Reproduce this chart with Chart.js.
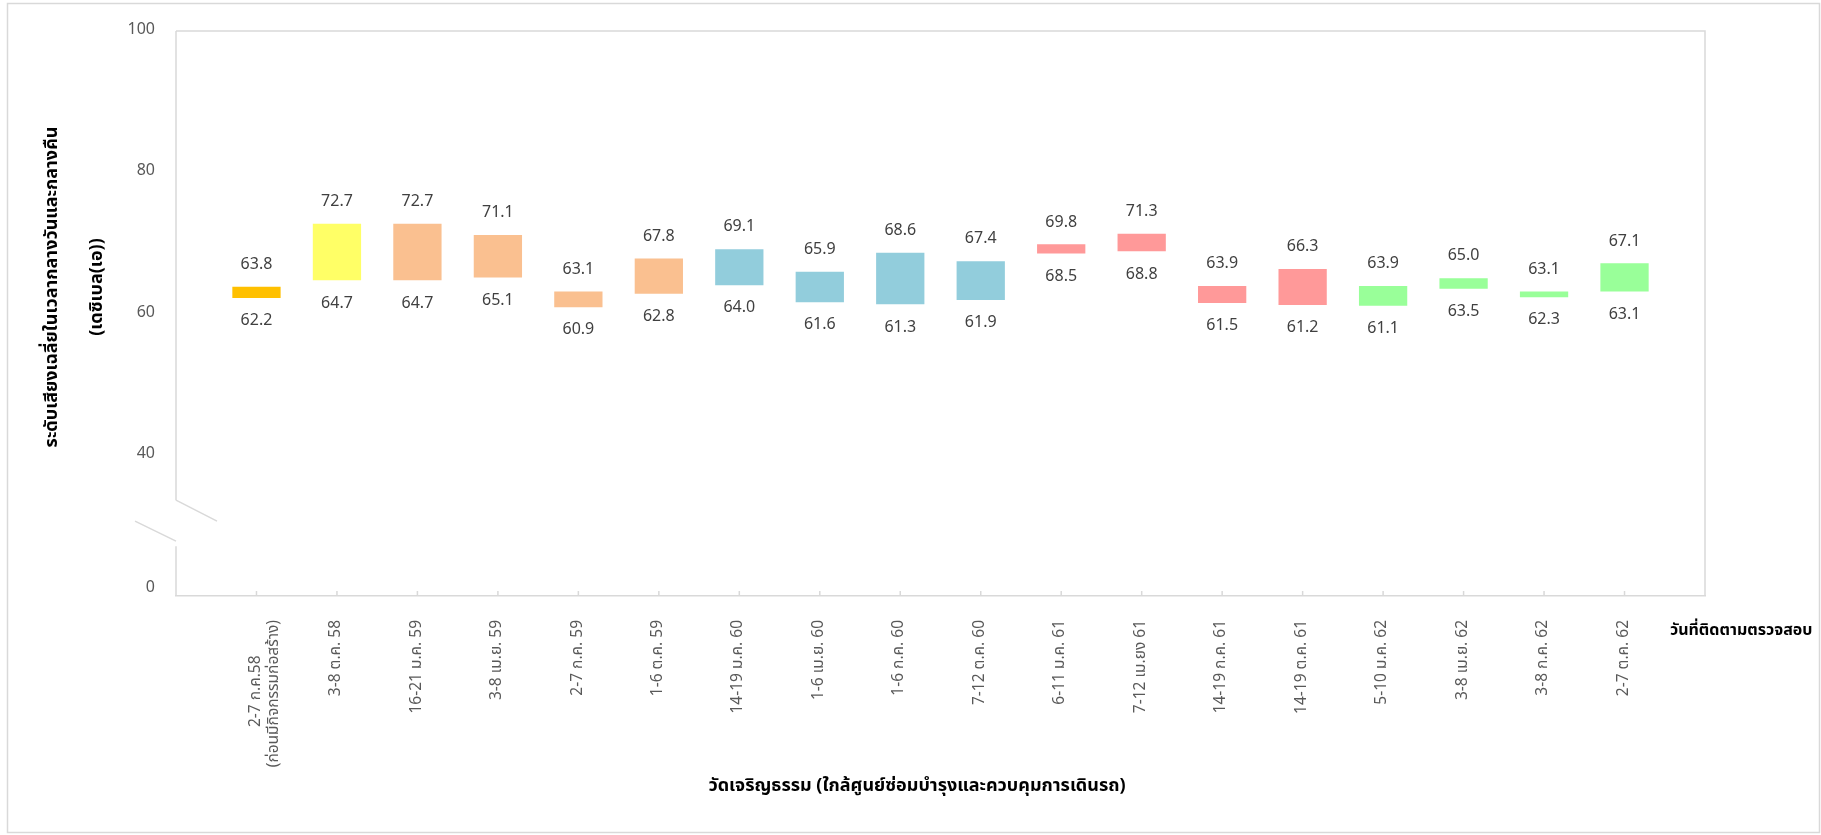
<!DOCTYPE html>
<html>
<head>
<meta charset="utf-8">
<script src="https://cdn.jsdelivr.net/npm/chart.js@4.4.1/dist/chart.umd.min.js"></script>
<style>
  html, body { margin: 0; padding: 0; background: #fff; }
  #wrap { width: 1821px; height: 835px; }
</style>
</head>
<body>
<div id="wrap"><canvas id="noiseChart" width="1821" height="835"></canvas></div>
<script>
// ช่วงวันที่ตรวจวัด
const categories = [
    ['2-7 ก.ค.58' + '\u2007'.repeat(4), '(ก่อนมีกิจกรรมก่อสร้าง)'],
    '3-8 ต.ค. 58', '16-21 ม.ค. 59', '3-8 เม.ย. 59', '2-7 ก.ค. 59', '1-6 ต.ค. 59',
    '14-19 ม.ค. 60', '1-6 เม.ย. 60', '1-6 ก.ค. 60', '7-12 ต.ค. 60', '6-11 ม.ค. 61',
    '7-12 เม.ยง 61', '14-19 ก.ค. 61', '14-19 ต.ค. 61', '5-10 ม.ค. 62', '3-8 เม.ย. 62',
    '3-8 ก.ค. 62', '2-7 ต.ค. 62'
];
const highValues = [63.8, 72.7, 72.7, 71.1, 63.1, 67.8, 69.1, 65.9, 68.6, 67.4, 69.8, 71.3, 63.9, 66.3, 63.9, 65.0, 63.1, 67.1];
const lowValues  = [62.2, 64.7, 64.7, 65.1, 60.9, 62.8, 64.0, 61.6, 61.3, 61.9, 68.5, 68.8, 61.5, 61.2, 61.1, 63.5, 62.3, 63.1];
const barColors = [
    '#FFC000', '#FFFF66',
    '#FAC090', '#FAC090', '#FAC090', '#FAC090',
    '#92CDDC', '#92CDDC', '#92CDDC', '#92CDDC',
    '#FF9999', '#FF9999', '#FF9999', '#FF9999',
    '#99FF99', '#99FF99', '#99FF99', '#99FF99'
];
// ค่าบนแกน y (แกนถูกตัดช่วงระหว่าง 0 ถึง 40)
const yTickValues = [21.0, 40, 60, 80, 100];
const yTickLabels = ['0', '40', '60', '80', '100'];

const yTitle = ['ระดับเสียงเฉลี่ยในเวลากลางวันและกลางคืน', '(เดซิเบล(เอ))'];
const xTitle = 'วัดเจริญธรรม (ใกล้ศูนย์ซ่อมบำรุงและควบคุมการเดินรถ)';
const xEndTitle = 'วันที่ติดตามตรวจสอบ';

const FONT = "'Noto Sans Thai', 'Noto Sans', Tahoma, sans-serif";
const GRAY = '#D9D9D9';

// ช่องว่างหัว-ท้ายแกน x
const labels = [''].concat(categories, ['']);
const ranges = [null].concat(highValues.map((h, i) => [lowValues[i], h]), [null]);
const colors = ['#fff'].concat(barColors, ['#fff']);

const decorPlugin = {
    id: 'decor',
    afterDraw(chart) {
        const ctx = chart.ctx;
        const area = chart.chartArea;
        const y = chart.scales.y;
        const x = chart.scales.x;
        ctx.save();

        // กรอบนอก
        ctx.strokeStyle = GRAY;
        ctx.lineWidth = 1.5;
        ctx.strokeRect(7.5, 3.5, 1812, 829);

        // ขอบบนและขวาของพื้นที่กราฟ
        ctx.beginPath();
        ctx.moveTo(area.left, area.top);
        ctx.lineTo(area.right, area.top);
        ctx.lineTo(area.right, area.bottom);
        ctx.stroke();

        // แกน y พร้อมเครื่องหมายตัดแกน
        const bc = y.getPixelForValue(30.6);
        ctx.beginPath();
        ctx.moveTo(area.left, area.top);
        ctx.lineTo(area.left, bc - 21);
        ctx.moveTo(area.left, bc + 25);
        ctx.lineTo(area.left, area.bottom);
        ctx.moveTo(area.left, bc - 21);
        ctx.lineTo(area.left + 41, bc);
        ctx.moveTo(area.left - 41, bc);
        ctx.lineTo(area.left, bc + 20);
        ctx.stroke();

        // ขีดแบ่งบนแกน x
        ctx.beginPath();
        for (let i = 1; i <= categories.length; i++) {
            const px = x.getPixelForValue(i);
            ctx.moveTo(px, area.bottom - 5);
            ctx.lineTo(px, area.bottom);
        }
        ctx.stroke();

        // ป้ายค่าบน-ล่างของแท่ง
        const meta = chart.getDatasetMeta(0);
        ctx.fillStyle = '#404040';
        ctx.font = '16px ' + FONT;
        ctx.textAlign = 'center';
        ctx.textBaseline = 'middle';
        meta.data.forEach((bar, i) => {
            if (!ranges[i]) return;
            const top = Math.min(bar.y, bar.base);
            const bot = Math.max(bar.y, bar.base);
            ctx.fillText(highValues[i - 1].toFixed(1), bar.x, top - 21);
            ctx.fillText(lowValues[i - 1].toFixed(1), bar.x, bot + 24);
        });

        // ชื่อแกน
        ctx.fillStyle = '#000';
        ctx.font = 'bold 18px ' + FONT;
        ctx.save();
        ctx.translate(53, 287);
        ctx.rotate(-Math.PI / 2);
        ctx.fillText(yTitle[0], 0, 0);
        ctx.fillText(yTitle[1], 0, 45);
        ctx.restore();

        ctx.font = 'bold 18px ' + FONT;
        ctx.fillText(xTitle, 917, 787);

        ctx.font = 'bold 16px ' + FONT;
        ctx.textAlign = 'left';
        ctx.fillText(xEndTitle, 1670, 632);

        ctx.restore();
    }
};

document.addEventListener('DOMContentLoaded', () => {
    const ctx = document.getElementById('noiseChart').getContext('2d');
    new Chart(ctx, {
        type: 'bar',
        data: {
            labels: labels,
            datasets: [{
                data: ranges,
                backgroundColor: colors,
                borderWidth: 0,
                barPercentage: 0.6,
                categoryPercentage: 1.0
            }]
        },
        options: {
            responsive: false,
            animation: false,
            layout: { padding: { left: 0, top: 31, right: 116, bottom: 0 } },
            plugins: {
                legend: { display: false },
                tooltip: { enabled: false }
            },
            scales: {
                x: {
                    offset: false,
                    grid: { display: false },
                    border: { display: true, color: GRAY, width: 1.5 },
                    ticks: {
                        autoSkip: false,
                        maxRotation: 90,
                        minRotation: 90,
                        padding: 16,
                        color: '#595959',
                        font: { size: 15.5, family: FONT }
                    },
                    afterFit(scale) { scale.height = 835 - 596; }
                },
                y: {
                    min: 20,
                    max: 100,
                    grid: { display: false, drawTicks: false },
                    border: { display: false },
                    afterBuildTicks(scale) {
                        scale.ticks = yTickValues.map(v => ({ value: v }));
                    },
                    ticks: {
                        padding: 21,
                        color: '#595959',
                        font: { size: 16, family: FONT },
                        callback: (value, index) => yTickLabels[index]
                    },
                    afterFit(scale) { scale.width = 176; }
                }
            }
        },
        plugins: [decorPlugin]
    });
});
</script>
</body>
</html>
